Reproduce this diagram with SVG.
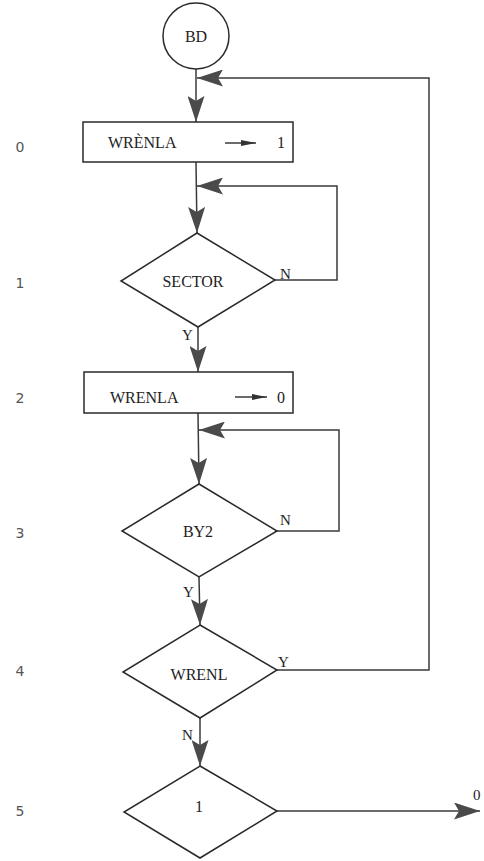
<svg xmlns="http://www.w3.org/2000/svg" width="484" height="861" viewBox="0 0 484 861">
<style>
.shape{fill:#fff;stroke:#2a2a2a;stroke-width:1.5}
.wire{fill:none;stroke:#3a3a3a;stroke-width:1.5}
.t{font-family:"Liberation Serif",serif;font-size:16px;fill:#222}
.yn{font-family:"Liberation Serif",serif;font-size:15px;fill:#222}
.row{font-family:"DejaVu Sans",sans-serif;font-size:14px;fill:#555;text-anchor:middle}
.c{text-anchor:middle}
</style>
<defs>
<marker id="ah" markerUnits="userSpaceOnUse" markerWidth="27" markerHeight="17" refX="26" refY="8.5" orient="auto">
<path d="M0,0 L26,8.5 L0,17 L5,8.5 z" fill="#4a4a4a"/>
</marker>
<marker id="sm" markerUnits="userSpaceOnUse" markerWidth="16" markerHeight="8" refX="15" refY="4" orient="auto">
<path d="M0,1 L15,4 L0,7 z" fill="#333"/>
</marker>
</defs>
<rect width="484" height="861" fill="#fff"/>
<g id="rows">
<text class="row" x="20" y="152">0</text>
<text class="row" x="20" y="288">1</text>
<text class="row" x="20" y="403">2</text>
<text class="row" x="20" y="538">3</text>
<text class="row" x="20" y="676">4</text>
<text class="row" x="20" y="816">5</text>
</g>
<g id="connectors">
<path class="wire" d="M196,69 L196,122" marker-end="url(#ah)"/>
<path class="wire" d="M277,670 L429,670 L429,78 L197,78" marker-end="url(#ah)"/>
<path class="wire" d="M196,162 L197,233" marker-end="url(#ah)"/>
<path class="wire" d="M275,280 L337,280 L337,186 L197,186" marker-end="url(#ah)"/>
<path class="wire" d="M198,327 L198,372" marker-end="url(#ah)"/>
<path class="wire" d="M198,413 L199,484" marker-end="url(#ah)"/>
<path class="wire" d="M277,531 L339,531 L339,430 L199,430" marker-end="url(#ah)"/>
<path class="wire" d="M199,577 L200,625" marker-end="url(#ah)"/>
<path class="wire" d="M200,718 L200,766" marker-end="url(#ah)"/>
<path class="wire" d="M277,811 L480,811" marker-end="url(#ah)"/>
<text class="yn" x="280" y="279">N</text>
<text class="yn" x="182" y="340">Y</text>
<text class="yn" x="280" y="525">N</text>
<text class="yn" x="183" y="597">Y</text>
<text class="yn" x="278" y="667">Y</text>
<text class="yn" x="182" y="740">N</text>
<text class="yn" x="473" y="800">0</text>
</g>
<g id="BD">
<circle class="shape" cx="196" cy="36" r="33"/>
<text class="t c" x="196" y="42">BD</text>
</g>
<g id="box0">
<rect class="shape" x="83" y="122" width="210" height="40"/>
<text class="t" x="108" y="148">WRÈNLA</text>
<path class="wire" d="M225,143 L256,143" marker-end="url(#sm)"/>
<text class="t c" x="281" y="148">1</text>
</g>
<g id="sector">
<polygon class="shape" points="197,233 275,280 198,327 121,281"/>
<text class="t c" x="193" y="287">SECTOR</text>
</g>
<g id="box2">
<rect class="shape" x="84" y="372" width="209" height="41"/>
<text class="t" x="110" y="403">WRENLA</text>
<path class="wire" d="M235,397 L267,397" marker-end="url(#sm)"/>
<text class="t c" x="281" y="403">0</text>
</g>
<g id="by2">
<polygon class="shape" points="199,484 277,531 199,577 122,531"/>
<text class="t c" x="198" y="537">BY2</text>
</g>
<g id="wrenl">
<polygon class="shape" points="200,625 277,670 200,718 123,672"/>
<text class="t c" x="199" y="680">WRENL</text>
</g>
<g id="one">
<polygon class="shape" points="200,766 277,811 200,858 124,812"/>
<text class="t c" x="199" y="812">1</text>
</g>
</svg>
